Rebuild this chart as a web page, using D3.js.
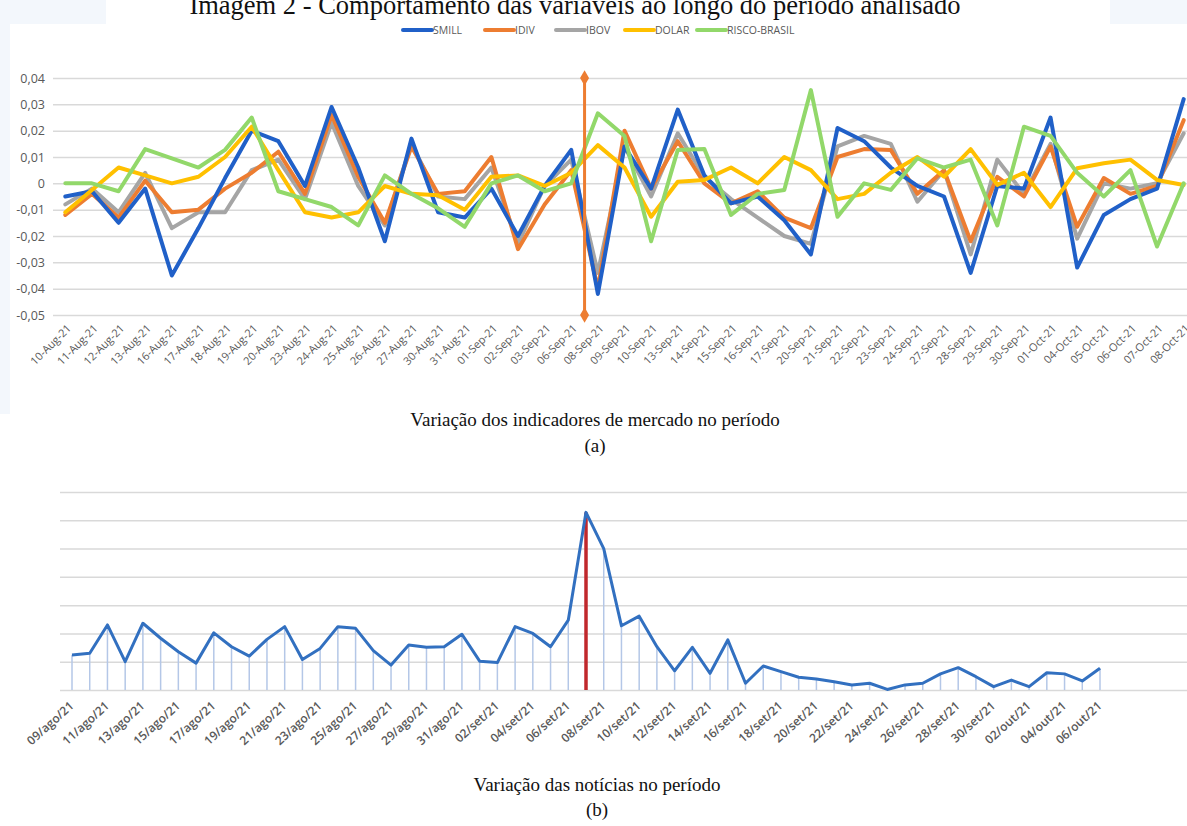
<!DOCTYPE html>
<html>
<head>
<meta charset="utf-8">
<script src="https://cdn.jsdelivr.net/npm/d3@7/dist/d3.min.js"></script>
<style>
  html, body { margin: 0; padding: 0; background: #fff; }
  svg { display: block; }
</style>
</head>
<body>
<svg id="chart" width="1187" height="826"></svg>
<script>
// ---------- DATA ----------
const titleText = "Imagem 2 - Comportamento das variáveis ao longo do período analisado";
const captionA = "Variação dos indicadores de mercado no período";
const captionB = "Variação das notícias no período";

const marketDates = ["10-Aug-21","11-Aug-21","12-Aug-21","13-Aug-21","16-Aug-21","17-Aug-21","18-Aug-21","19-Aug-21","20-Aug-21","23-Aug-21","24-Aug-21","25-Aug-21","26-Aug-21","27-Aug-21","30-Aug-21","31-Aug-21","01-Sep-21","02-Sep-21","03-Sep-21","06-Sep-21","08-Sep-21","09-Sep-21","10-Sep-21","13-Sep-21","14-Sep-21","15-Sep-21","16-Sep-21","17-Sep-21","20-Sep-21","21-Sep-21","22-Sep-21","23-Sep-21","24-Sep-21","27-Sep-21","28-Sep-21","29-Sep-21","30-Sep-21","01-Oct-21","04-Oct-21","05-Oct-21","06-Oct-21","07-Oct-21","08-Oct-21"];

const smill = [-0.005,-0.003,-0.015,-0.002,-0.035,-0.017,0.002,0.020,0.016,-0.001,0.029,0.006,-0.022,0.017,-0.011,-0.013,-0.002,-0.020,-0.001,0.0127,-0.042,0.014,-0.002,0.028,0.003,-0.0076,-0.005,-0.014,-0.027,0.021,0.016,0.006,-0.001,-0.005,-0.034,-0.001,-0.002,0.025,-0.032,-0.012,-0.006,-0.002,0.032];
const idiv = [-0.012,-0.004,-0.013,0.001,-0.011,-0.010,-0.002,0.004,0.012,-0.004,0.026,0.0025,-0.015,0.014,-0.004,-0.003,0.010,-0.025,-0.008,0.005,-0.040,0.020,-0.002,0.016,0.000,-0.0076,-0.003,-0.013,-0.017,0.010,0.013,0.0127,-0.004,0.005,-0.022,0.0025,-0.005,0.014,-0.0165,0.002,-0.004,-0.001,0.024];
const ibov = [-0.008,-0.002,-0.011,0.004,-0.017,-0.011,-0.011,0.005,0.009,-0.006,0.023,-0.001,-0.016,0.015,-0.005,-0.006,0.006,-0.023,-0.001,0.009,-0.034,0.014,-0.005,0.019,0.0025,-0.006,-0.013,-0.020,-0.023,0.014,0.018,0.015,-0.007,0.005,-0.027,0.009,-0.004,0.015,-0.021,0.000,-0.002,0.000,0.019];
const dolar = [-0.011,-0.0025,0.006,0.003,0.000,0.0025,0.010,0.0215,0.005,-0.011,-0.013,-0.011,-0.001,-0.004,-0.0045,-0.010,0.0025,0.003,-0.001,0.004,0.0145,0.006,-0.0127,0.0006,0.0013,0.006,0.000,0.010,0.005,-0.006,-0.004,0.004,0.010,0.0025,0.013,-0.0006,0.004,-0.009,0.0057,0.0076,0.009,0.0013,-0.0006];
const risco = [0.000,0.000,-0.003,0.013,0.0095,0.006,0.0127,0.025,-0.003,-0.006,-0.009,-0.016,0.003,-0.004,-0.0095,-0.0165,0.000,0.003,-0.003,0.000,0.0266,0.018,-0.022,0.0127,0.013,-0.012,-0.004,-0.0025,0.0354,-0.0127,0.000,-0.0025,0.0095,0.006,0.009,-0.016,0.0215,0.018,0.004,-0.005,0.005,-0.024,0.000];

const seriesNames = ["SMILL","IDIV","IBOV","DOLAR","RISCO-BRASIL"];
const seriesColors = ["#2060c8","#ed7d31","#a5a5a5","#ffc000","#92d86a"];
const yTicksTop = [0.04,0.03,0.02,0.01,0,-0.01,-0.02,-0.03,-0.04,-0.05];
const eventBetween = ["06-Sep-21","08-Sep-21"];

const newsDates = ["09/ago/21","10/ago/21","11/ago/21","12/ago/21","13/ago/21","14/ago/21","15/ago/21","16/ago/21","17/ago/21","18/ago/21","19/ago/21","20/ago/21","21/ago/21","22/ago/21","23/ago/21","24/ago/21","25/ago/21","26/ago/21","27/ago/21","28/ago/21","29/ago/21","30/ago/21","31/ago/21","01/set/21","02/set/21","03/set/21","04/set/21","05/set/21","06/set/21","07/set/21","08/set/21","09/set/21","10/set/21","11/set/21","12/set/21","13/set/21","14/set/21","15/set/21","16/set/21","17/set/21","18/set/21","19/set/21","20/set/21","21/set/21","22/set/21","23/set/21","24/set/21","25/set/21","26/set/21","27/set/21","28/set/21","29/set/21","30/set/21","01/out/21","02/out/21","03/out/21","04/out/21","05/out/21","06/out/21"];
const newsValues = [1.24,1.30,2.30,1.00,2.36,1.83,1.35,0.95,2.02,1.53,1.20,1.79,2.24,1.08,1.47,2.24,2.18,1.39,0.88,1.59,1.51,1.53,1.97,1.02,0.97,2.24,2.00,1.53,2.47,6.28,5.00,2.27,2.61,1.53,0.68,1.51,0.59,1.77,0.24,0.85,0.65,0.45,0.39,0.29,0.18,0.24,0.02,0.18,0.24,0.57,0.79,0.47,0.12,0.35,0.12,0.61,0.57,0.32,0.77];
const newsGridTicks = [0,1,2,3,4,5,6,7];
const newsEvent = "07/set/21";

// ---------- DRAW ----------
const svg = d3.select("#chart");
const serif = "'Liberation Serif','Times New Roman',serif";
const sans = "'Open Sans','Liberation Sans',sans-serif";

// faint scan background
svg.append("rect").attr("x",0).attr("y",0).attr("width",1187).attr("height",826).attr("fill","#ffffff");
svg.append("rect").attr("x",0).attr("y",0).attr("width",1187).attr("height",24).attr("fill","#f3f7fc");
svg.append("rect").attr("x",106).attr("y",0).attr("width",1004).attr("height",24).attr("fill","#ffffff");
svg.append("rect").attr("x",0).attr("y",24).attr("width",10).attr("height",390).attr("fill","#f3f7fc");

// title (cut off at top, as in the scanned source)
svg.append("text").attr("x",575).attr("y",14).attr("text-anchor","middle")
  .attr("font-family",serif).attr("font-size",26.5).attr("fill","#111").text(titleText);

// ---- top chart ----
const xTop = d3.scalePoint().domain(marketDates).range([52,1197]).padding(0.5);
const yTop = d3.scaleLinear().domain([-0.05,0.04]).range([315,78]);
const ptLocale = d3.formatLocale({decimal:",", thousands:".", grouping:[3], currency:["R$",""], minus:"-"});
const fmt2 = ptLocale.format(".2f");

const gGrid = svg.append("g").attr("transform","translate(53,0)")
  .call(d3.axisLeft(yTop).tickValues(yTicksTop).tickSize(-1134).tickFormat(d => d===0 ? "0" : fmt2(d)));
gGrid.select(".domain").remove();
gGrid.selectAll(".tick line").attr("stroke","#d9d9d9").attr("stroke-width",1.5);
gGrid.selectAll(".tick text").attr("x",-8).attr("font-family",sans).attr("font-size",12.5).attr("fill","#595959");

const gxTop = svg.append("g").attr("transform","translate(0,315)")
  .call(d3.axisBottom(xTop).tickSize(0));
gxTop.select(".domain").remove();
gxTop.selectAll(".tick text")
  .attr("font-family",sans).attr("font-size",11).attr("fill","#595959")
  .attr("text-anchor","end").attr("y",0).attr("dy",0)
  .attr("transform","translate(6,14) rotate(-45)");

const allSeries = [smill, idiv, ibov, dolar, risco];
const lineTop = d3.line().x((d,i) => xTop(marketDates[i])).y(d => yTop(d));
const order = [2,1,0,3,4];
order.forEach(k => {
  svg.append("path").datum(allSeries[k]).attr("d",lineTop)
    .attr("fill","none").attr("stroke",seriesColors[k]).attr("stroke-width",4)
    .attr("stroke-linejoin","round").attr("stroke-linecap","round");
});

// event marker (orange vertical line with diamond ends)
const ex = (xTop(eventBetween[0]) + xTop(eventBetween[1])) / 2;
svg.append("line").attr("x1",ex).attr("x2",ex).attr("y1",yTop(0.04)).attr("y2",yTop(-0.05))
  .attr("stroke","#ed7d31").attr("stroke-width",3);
[0.04,-0.05].forEach(v => {
  svg.append("path").attr("d",d3.symbol(d3.symbolDiamond,70)())
    .attr("transform",`translate(${ex},${yTop(v)})`).attr("fill","#ed7d31");
});

// legend
const legendX = [403,485,556,625,697];
const leg = svg.append("g");
seriesNames.forEach((n,i) => {
  leg.append("line").attr("x1",legendX[i]).attr("x2",legendX[i]+29).attr("y1",30).attr("y2",30)
    .attr("stroke",seriesColors[i]).attr("stroke-width",4).attr("stroke-linecap","round");
  leg.append("text").attr("x",legendX[i]+30).attr("y",34).attr("font-family",sans)
    .attr("font-size",10.5).attr("fill","#595959").text(n);
});

// captions
svg.append("text").attr("x",595).attr("y",426).attr("text-anchor","middle")
  .attr("font-family",serif).attr("font-size",19).attr("fill","#111").text(captionA);
svg.append("text").attr("x",595).attr("y",452).attr("text-anchor","middle")
  .attr("font-family",serif).attr("font-size",19).attr("fill","#111").text("(a)");

// ---- bottom chart ----
const xB = d3.scalePoint().domain(newsDates).range([72,1100]);
const yB = d3.scaleLinear().domain([0,7]).range([690,492]);

const gGridB = svg.append("g").attr("transform","translate(60,0)")
  .call(d3.axisLeft(yB).tickValues(newsGridTicks).tickSize(-1127).tickFormat(""));
gGridB.select(".domain").remove();
gGridB.selectAll(".tick line").attr("stroke","#d9d9d9").attr("stroke-width",1.5);

// drop lines
svg.append("g").selectAll("line").data(newsValues).join("line")
  .attr("x1",(d,i) => xB(newsDates[i])).attr("x2",(d,i) => xB(newsDates[i]))
  .attr("y1",d => yB(d)).attr("y2",yB(0))
  .attr("stroke","#b4c7e7").attr("stroke-width",1.5);

// red event line
const peakIdx = newsDates.indexOf(newsEvent);
svg.append("line").attr("x1",xB(newsEvent)).attr("x2",xB(newsEvent))
  .attr("y1",yB(newsValues[peakIdx])).attr("y2",yB(0))
  .attr("stroke","#c0282d").attr("stroke-width",3.5);

svg.append("path").datum(newsValues)
  .attr("d",d3.line().x((d,i) => xB(newsDates[i])).y(d => yB(d)))
  .attr("fill","none").attr("stroke","#3270c0").attr("stroke-width",3)
  .attr("stroke-linejoin","round");

const labelDates = newsDates.filter((d,i) => i % 2 === 0);
const gxB = svg.append("g").attr("transform","translate(0,690)")
  .call(d3.axisBottom(xB).tickValues(labelDates).tickSize(0));
gxB.select(".domain").remove();
gxB.selectAll(".tick text")
  .attr("font-family",sans).attr("font-size",12).attr("font-weight",600).attr("fill","#595959")
  .attr("text-anchor","end").attr("y",0).attr("dy",0)
  .attr("transform","translate(2,17) rotate(-42)");

svg.append("text").attr("x",597).attr("y",791).attr("text-anchor","middle")
  .attr("font-family",serif).attr("font-size",19).attr("fill","#111").text(captionB);
svg.append("text").attr("x",597).attr("y",816).attr("text-anchor","middle")
  .attr("font-family",serif).attr("font-size",19).attr("fill","#111").text("(b)");
</script>
</body>
</html>
